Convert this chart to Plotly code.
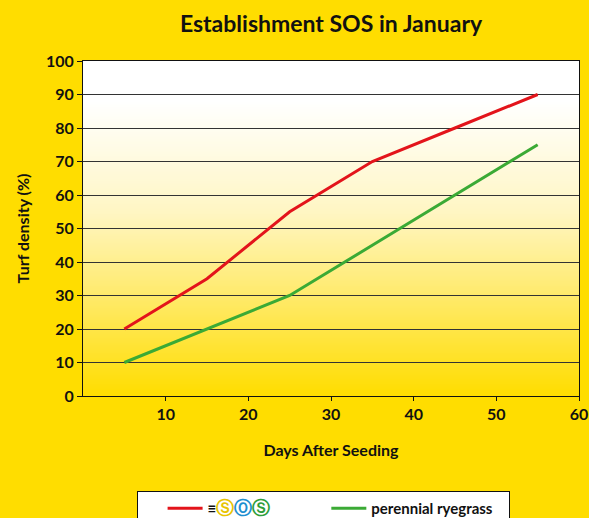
import base64
import struct
import zlib

import plotly.graph_objects as go

days = [5, 15, 25, 35, 45, 55]
sos = [20, 35, 55, 70, 80, 90]
ryegrass = [10, 20, 30, 45, 60, 75]
x_ticks = [10, 20, 30, 40, 50, 60]
y_ticks = [0, 10, 20, 30, 40, 50, 60, 70, 80, 90, 100]

BG = "#FFDD00"
FONT = "Lato"


def gradient_png(stops, n=200):
    """Vertical gradient PNG (1 px wide), top to bottom, from (pos, (r,g,b)) stops."""
    rows = []
    for i in range(n):
        t = i / (n - 1)
        for (p0, c0), (p1, c1) in zip(stops, stops[1:]):
            if p0 <= t <= p1:
                f = 0 if p1 == p0 else (t - p0) / (p1 - p0)
                c = tuple(int(round(a + (b - a) * f)) for a, b in zip(c0, c1))
                break
        rows.append(b"\x00" + bytes(c))
    raw = b"".join(rows)

    def chunk(tag, data):
        return struct.pack(">I", len(data)) + tag + data + struct.pack(">I", zlib.crc32(tag + data) & 0xFFFFFFFF)

    png = b"\x89PNG\r\n\x1a\n" + chunk(b"IHDR", struct.pack(">IIBBBBB", 1, n, 8, 2, 0, 0, 0)) \
        + chunk(b"IDAT", zlib.compress(raw)) + chunk(b"IEND", b"")
    return "data:image/png;base64," + base64.b64encode(png).decode()


grad = gradient_png([(0.0, (255, 255, 255)), (0.12, (255, 255, 255)), (0.45, (255, 246, 196)),
                     (0.75, (255, 232, 90)), (1.0, (255, 221, 0))])

fig = go.Figure()

sos_name = ("<span style='color:#111111;font-size:15px'>≡</span>"
            "<span style='color:#E8C400;font-size:18px'>Ⓢ</span>"
            "<span style='color:#1E8FD0;font-size:18px'>Ⓞ</span>"
            "<span style='color:#2E9E3A;font-size:18px'>Ⓢ</span>"
            + "&nbsp;" * 14)

fig.add_trace(go.Scatter(x=days, y=sos, mode="lines", name=sos_name,
                         line=dict(color="#E3141B", width=3)))
fig.add_trace(go.Scatter(x=days, y=ryegrass, mode="lines", name="perennial ryegrass&nbsp;&nbsp;&nbsp;",
                         line=dict(color="#3BAA35", width=3)))

fig.add_layout_image(dict(source=grad, xref="x", yref="y", x=0, y=100, sizex=60, sizey=100,
                          sizing="stretch", layer="below", xanchor="left", yanchor="top"))

fig.update_layout(
    width=589, height=518,
    paper_bgcolor=BG, plot_bgcolor=BG,
    margin=dict(l=83, r=10, t=61, b=122, autoexpand=False),
    font=dict(family=FONT, color="#111111", size=16, weight="bold"),
    title=dict(text="Establishment SOS in January", x=0.5, xref="paper",
               y=1 - 24 / 518, yanchor="middle", font=dict(size=23, color="#111111", weight="bold")),
    showlegend=True,
    legend=dict(orientation="h", x=(137 - 83) / 496, xanchor="left",
                y=(396 - 491) / 335, yanchor="top",
                bgcolor="#FFFFFF", bordercolor="#111111", borderwidth=1,
                font=dict(size=15, color="#111111", weight="bold"),
                itemwidth=35,
                title=dict(text="&nbsp;&nbsp;&nbsp;&nbsp;", side="left", font=dict(size=15))),
    xaxis=dict(range=[0, 60], tickvals=x_ticks, showgrid=False, zeroline=False,
               showline=True, linecolor="#111111", linewidth=1, mirror=True,
               ticks="outside", ticklen=4, tickcolor="#111111",
               tickfont=dict(size=16, weight="bold"),
               title=dict(text="Days After Seeding", font=dict(size=16, weight="bold"), standoff=22)),
    yaxis=dict(range=[0, 100], tickvals=y_ticks, showgrid=True, gridcolor="#333333", gridwidth=1,
               zeroline=False, showline=True, linecolor="#111111", linewidth=1, mirror=True,
               ticks="outside", ticklen=5, tickcolor="#111111",
               tickfont=dict(size=16, weight="bold"),
               title=dict(text="Turf density (%)", font=dict(size=16, weight="bold"), standoff=12)),
)

fig.write_html("out.html", config={"displayModeBar": False},
               post_script="document.body.style.margin='0';")
